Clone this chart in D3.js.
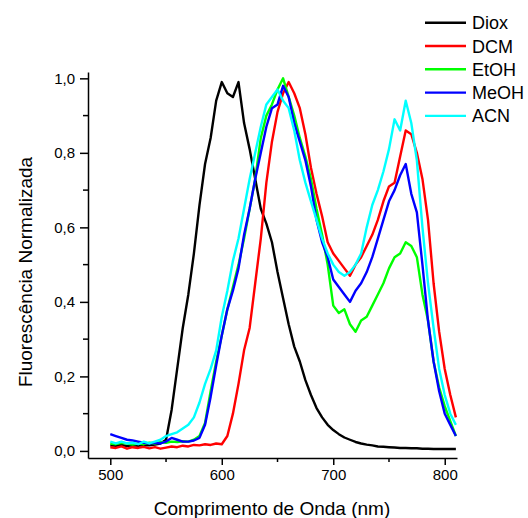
<!DOCTYPE html>
<html>
<head>
<meta charset="utf-8">
<script src="https://cdn.jsdelivr.net/npm/d3@7"></script>
<style>
  body { margin: 0; background: #fff; }
  text { font-family: "Liberation Sans", Arial, sans-serif; fill: #000; }
</style>
</head>
<body>
<div id="chart"></div>
<script>
// Comprimento de onda (nm), passo de 5 nm
const wavelengths = d3.range(500, 811, 5);

const seriesNames = ["Diox", "DCM", "EtOH", "MeOH", "ACN"];
const seriesColors = ["#000000", "#ff0000", "#00ff00", "#0000ff", "#00ffff"];

const diox = [0.015, 0.014, 0.016, 0.013, 0.015, 0.014, 0.016, 0.015, 0.017, 0.02,
  0.03, 0.11, 0.22, 0.33, 0.42, 0.53, 0.66, 0.77, 0.84, 0.94,
  0.99, 0.96, 0.95, 0.99, 0.88, 0.81, 0.73, 0.65, 0.61, 0.56,
  0.48, 0.41, 0.34, 0.28, 0.24, 0.19, 0.15, 0.115, 0.09, 0.07,
  0.056, 0.045, 0.036, 0.03, 0.024, 0.02, 0.017, 0.015, 0.012, 0.011,
  0.01, 0.009, 0.008, 0.008, 0.007, 0.007, 0.006, 0.006, 0.005, 0.005,
  0.005, 0.005, 0.005];

const dcm = [0.01, 0.008, 0.012, 0.006, 0.01, 0.008, 0.011, 0.007, 0.01, 0.006,
  0.009, 0.012, 0.01, 0.014, 0.012, 0.016, 0.015, 0.018, 0.016, 0.02,
  0.018, 0.04, 0.10, 0.18, 0.27, 0.33, 0.45, 0.57, 0.72, 0.83,
  0.91, 0.96, 0.99, 0.96, 0.92, 0.85, 0.76, 0.69, 0.63, 0.56,
  0.53, 0.51, 0.49, 0.47, 0.50, 0.52, 0.55, 0.58, 0.62, 0.67,
  0.71, 0.72, 0.79, 0.86, 0.85, 0.80, 0.73, 0.62, 0.45, 0.32,
  0.22, 0.15, 0.09];

const etoh = [0.02, 0.018, 0.022, 0.02, 0.017, 0.02, 0.018, 0.022, 0.02, 0.024,
  0.022, 0.025, 0.024, 0.026, 0.025, 0.03, 0.04, 0.075, 0.16, 0.24,
  0.31, 0.38, 0.44, 0.50, 0.57, 0.65, 0.73, 0.84, 0.90, 0.93,
  0.97, 1.0, 0.95, 0.90, 0.84, 0.79, 0.73, 0.65, 0.58, 0.50,
  0.39, 0.37, 0.38, 0.34, 0.32, 0.35, 0.36, 0.39, 0.42, 0.45,
  0.49, 0.52, 0.53, 0.56, 0.55, 0.52, 0.42, 0.35, 0.24, 0.17,
  0.12, 0.08, 0.04];

const meoh = [0.045, 0.04, 0.035, 0.03, 0.028, 0.025, 0.022, 0.02, 0.022, 0.02,
  0.025, 0.035, 0.03, 0.025, 0.025, 0.028, 0.035, 0.07, 0.145, 0.23,
  0.31, 0.38, 0.43, 0.49, 0.58, 0.65, 0.73, 0.80, 0.87, 0.92,
  0.93, 0.98, 0.95, 0.88, 0.83, 0.78, 0.71, 0.62, 0.56, 0.52,
  0.46, 0.44, 0.42, 0.40, 0.43, 0.45, 0.48, 0.52, 0.57, 0.62,
  0.67, 0.70, 0.74, 0.77, 0.69, 0.64, 0.50, 0.35, 0.24, 0.16,
  0.10, 0.07, 0.04];

const acn = [0.025, 0.02, 0.025, 0.02, 0.022, 0.018, 0.025, 0.02, 0.025, 0.03,
  0.04, 0.045, 0.05, 0.06, 0.07, 0.09, 0.13, 0.18, 0.22, 0.27,
  0.36, 0.43, 0.51, 0.57, 0.65, 0.73, 0.80, 0.87, 0.93, 0.95,
  0.97, 0.94, 0.92, 0.86, 0.78, 0.72, 0.67, 0.62, 0.57, 0.53,
  0.50, 0.48, 0.47, 0.48, 0.50, 0.53, 0.60, 0.66, 0.70, 0.75,
  0.81, 0.89, 0.86, 0.94, 0.88, 0.78, 0.60, 0.45, 0.33, 0.22,
  0.15, 0.10, 0.07];

const seriesValues = [diox, dcm, etoh, meoh, acn];

const xTicks = [500, 600, 700, 800];
const xMinorTicks = [550, 650, 750];
const yTicks = [0, 0.2, 0.4, 0.6, 0.8, 1.0];
const yMinorTicks = [0.1, 0.3, 0.5, 0.7, 0.9];

const W = 528, H = 518;

const svg = d3.select("#chart")
  .append("svg")
  .attr("width", W)
  .attr("height", H);

const x = d3.scaleLinear().domain([480, 811]).range([88, 457]);
const y = d3.scaleLinear().domain([-0.019, 1.017]).range([458, 72]);

const fmtY = d => d3.format(".1f")(d).replace(".", ",");

// Eixo X
const gx = svg.append("g")
  .attr("transform", `translate(0,${y.range()[0]})`)
  .call(d3.axisBottom(x).tickValues(xTicks).tickSize(7).tickPadding(4).tickSizeOuter(0));
gx.append("g").selectAll("line")
  .data(xMinorTicks).enter().append("line")
  .attr("x1", d => x(d)).attr("x2", d => x(d))
  .attr("y1", 0).attr("y2", 4)
  .attr("stroke", "#000").attr("stroke-width", 1.5);

// Eixo Y
const gy = svg.append("g")
  .attr("transform", `translate(${x.range()[0]},0)`)
  .call(d3.axisLeft(y).tickValues(yTicks).tickFormat(fmtY).tickSize(8).tickPadding(5).tickSizeOuter(0));
gy.append("g").selectAll("line")
  .data(yMinorTicks).enter().append("line")
  .attr("y1", d => y(d)).attr("y2", d => y(d))
  .attr("x1", 0).attr("x2", -5)
  .attr("stroke", "#000").attr("stroke-width", 1.5);

[gx, gy].forEach(g => {
  g.select(".domain").attr("stroke-width", 1.5);
  g.selectAll(".tick line").attr("stroke-width", 1.5);
  g.selectAll(".tick text")
    .style("font-family", '"Liberation Sans", Arial, sans-serif')
    .style("font-size", "15px");
});

// Curvas
const line = d3.line()
  .x((d, i) => x(wavelengths[i]))
  .y(d => y(d));

svg.append("g").selectAll("path")
  .data(seriesValues).enter().append("path")
  .attr("d", d => line(d))
  .attr("fill", "none")
  .attr("stroke", (d, i) => seriesColors[i])
  .attr("stroke-width", 2.4)
  .attr("stroke-linejoin", "round");

// Legenda
const legend = svg.append("g").selectAll("g")
  .data(seriesNames).enter().append("g")
  .attr("transform", (d, i) => `translate(0,${22.7 + i * 23.3})`);
legend.append("line")
  .attr("x1", 425).attr("x2", 466)
  .attr("stroke", (d, i) => seriesColors[i])
  .attr("stroke-width", 2.4);
legend.append("text")
  .attr("x", 472).attr("y", 6.5)
  .style("font-size", "18px")
  .text(d => d);

// Títulos dos eixos
svg.append("text")
  .attr("x", 272).attr("y", 515)
  .attr("text-anchor", "middle")
  .style("font-size", "19px")
  .text("Comprimento de Onda (nm)");

svg.append("text")
  .attr("transform", "translate(32,272) rotate(-90)")
  .attr("text-anchor", "middle")
  .style("font-size", "19px")
  .text("Fluorescência Normalizada");
</script>
</body>
</html>
